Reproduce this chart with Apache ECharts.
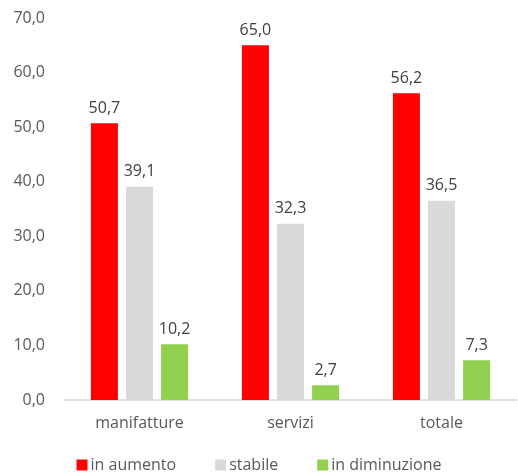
<!DOCTYPE html>
<html><head><meta charset="utf-8">
<script src="https://cdn.jsdelivr.net/npm/echarts@6/dist/echarts.min.js"></script>
<style>html,body{margin:0;padding:0;background:#fff}#c{width:518px;height:474px}</style>
</head><body><div id="c"></div>
<script>
const categories = ['manifatture', 'servizi', 'totale'];
const inAumento = [50.7, 65.0, 56.2];
const stabile = [39.1, 32.3, 36.5];
const inDiminuzione = [10.2, 2.7, 7.3];
const seriesNames = ['in aumento', 'stabile', 'in diminuzione'];
const colors = ['#FF0000', '#D9D9D9', '#92D050'];

const font = 'Open Sans';
const fmt = v => v.toFixed(1).replace('.', ',');
const chart = echarts.init(document.getElementById('c'));
const mk = (name, data, color) => ({
  name, type: 'bar', data, barWidth: 27, barGap: '30%',
  itemStyle: { color },
  label: { show: true, position: 'top', distance: 7, color: '#404040', fontSize: 16, fontFamily: font,
    formatter: p => fmt(p.value) }
});
chart.setOption({
  animation: false,
  textStyle: { fontFamily: font },
  grid: { left: 64, right: 1, top: 18, bottom: 74, containLabel: false },
  legend: {
    top: 452, left: 'center', itemWidth: 11, itemHeight: 11, itemGap: 39, icon: 'rect',
    textStyle: { color: '#595959', fontSize: 16, fontFamily: font, padding: [0, 0, 0, -2] },
    data: seriesNames
  },
  xAxis: {
    type: 'category', data: categories,
    axisLine: { lineStyle: { color: '#D9D9D9', width: 1.5 } },
    axisTick: { show: false },
    axisLabel: { color: '#595959', fontSize: 16, fontFamily: font, margin: 15 }
  },
  yAxis: {
    type: 'value', min: 0, max: 70, interval: 10,
    splitLine: { show: false },
    axisLine: { show: false }, axisTick: { show: false },
    axisLabel: { color: '#595959', fontSize: 16, fontFamily: font, margin: 19, formatter: v => fmt(v) }
  },
  series: [
    mk(seriesNames[0], inAumento, colors[0]),
    mk(seriesNames[1], stabile, colors[1]),
    mk(seriesNames[2], inDiminuzione, colors[2])
  ]
});
</script></body></html>
